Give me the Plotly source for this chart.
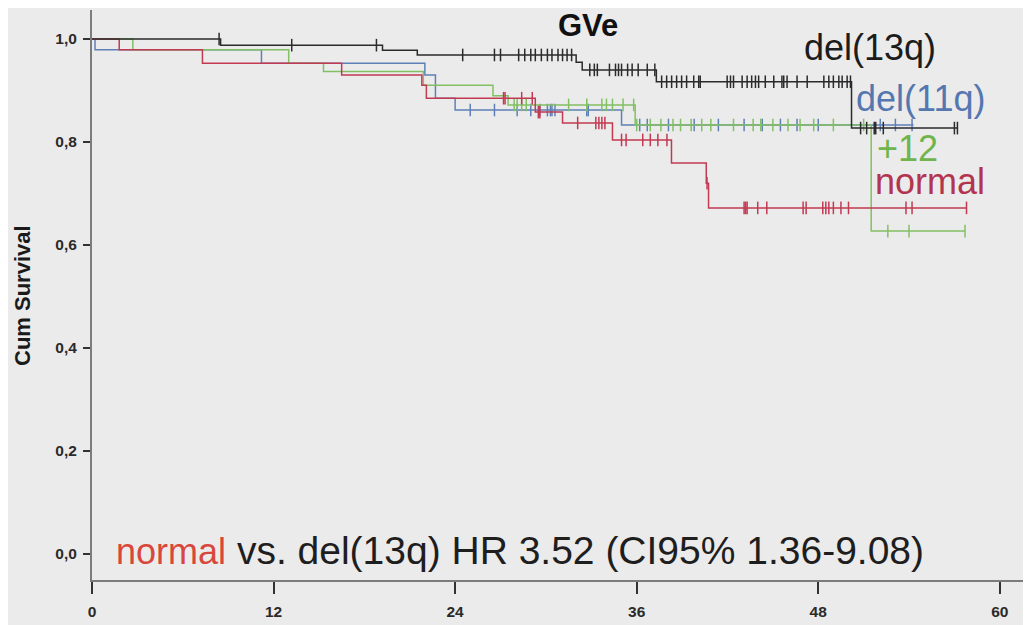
import numpy as np
import plotly.graph_objects as go

# ---------------- data ----------------
groups = ["del(13q)", "del(11q)", "+12", "normal"]

# del(13q)
del13_event_t = [8.5, 19.2, 21.5, 32.0, 32.4, 37.3, 50.2]
del13_event_s = [0.988, 0.978, 0.969, 0.955, 0.940, 0.917, 0.827]
del13_end = 57.2
del13_cens = [8.4, 13.2, 18.8, 24.5, 26.6, 27.0, 28.2, 28.6, 29.0, 29.3, 29.7, 30.1,
              30.4, 30.8, 31.1, 31.4, 31.7, 32.9, 33.2, 33.4, 34.2, 34.6, 34.8, 35.0,
              35.4, 35.7, 36.1, 36.7, 37.2, 37.65, 37.98, 38.31, 38.64, 38.97, 39.3,
              39.77, 40.1, 40.2, 41.98, 42.2, 42.4, 42.97, 43.3, 43.6, 43.85, 44.06,
              44.5, 45.06, 45.6, 45.72, 45.94, 46.6, 47.27, 48.37, 48.7, 49.0, 49.36,
              49.58, 49.91, 50.13, 50.8, 51.2, 51.7, 51.8, 52.3, 57.0, 57.2]

# del(11q)
del11_event_t = [0.2, 11.2, 22.0, 22.7, 24.0, 35.0]
del11_event_s = [0.979, 0.953, 0.930, 0.885, 0.862, 0.833]
del11_end = 54.3
del11_cens = [25.0, 26.6, 28.1, 29.0, 29.6, 30.1, 30.3, 30.4, 30.6, 32.7, 32.8,
              36.2, 36.7, 38.1, 39.8, 41.4, 43.1, 44.3, 45.5, 46.6, 48.0, 52.1,
              53.1, 54.2]

# +12
tri12_event_t = [2.7, 13.0, 15.3, 21.9, 26.5, 27.5, 35.9, 51.5]
tri12_event_s = [0.979, 0.953, 0.937, 0.910, 0.890, 0.872, 0.833, 0.627]
tri12_end = 57.7
tri12_cens = [27.9, 28.1, 28.4, 28.7, 31.5, 32.7, 33.7, 34.0, 34.4, 35.1, 35.8,
              36.0, 36.9, 37.6, 38.4, 38.9, 39.6, 40.3, 40.9, 42.4, 43.7, 44.2,
              45.0, 46.0, 46.8, 47.7, 49.0, 51.0, 52.6, 54.0, 57.7]

# normal
norm_event_t = [1.8, 7.3, 16.5, 21.8, 22.1, 29.3, 31.1, 34.4, 38.3, 40.6, 40.75]
norm_event_s = [0.979, 0.953, 0.930, 0.910, 0.885, 0.858, 0.837, 0.804, 0.759, 0.720, 0.672]
norm_end = 57.8
norm_cens = [27.2, 27.3, 28.4, 29.1, 29.5, 29.6, 32.1, 33.3, 33.5, 33.7, 33.9,
             35.0, 35.3, 36.4, 36.9, 37.4, 38.0, 40.65, 43.1, 43.2, 43.3, 44.0,
             44.6, 47.0, 47.2, 48.3, 48.5, 48.7, 49.0, 49.5, 50.0, 53.8, 54.2, 57.8]

x_ticks = [0, 12, 24, 36, 48, 60]
y_ticks = [0.0, 0.2, 0.4, 0.6, 0.8, 1.0]
y_ticktext = ["0,0", "0,2", "0,4", "0,6", "0,8", "1,0"]

title_text = "GVe"
y_title = "Cum Survival"
hr_text = "vs. del(13q) HR 3.52 (CI95% 1.36-9.08)"

# ---------------- styles ----------------
BG = "#ebebeb"
line_colors = {"del(13q)": "#2b2b2b", "del(11q)": "#5f80b6", "+12": "#82c064", "normal": "#c23a52"}
label_colors = {"del(13q)": "#1c1c1c", "del(11q)": "#5577b0", "+12": "#6fb44c", "normal": "#b3344e"}

series = {
    "del(13q)": (del13_event_t, del13_event_s, del13_end, del13_cens),
    "del(11q)": (del11_event_t, del11_event_s, del11_end, del11_cens),
    "+12": (tri12_event_t, tri12_event_s, tri12_end, tri12_cens),
    "normal": (norm_event_t, norm_event_s, norm_end, norm_cens),
}

fig = go.Figure()
order = ["del(11q)", "+12", "normal", "del(13q)"]
for g in order:
    et, es, end, cens = series[g]
    xs = [0.0] + list(et) + [end]
    ys = [1.0] + list(es) + [es[-1]]
    fig.add_trace(go.Scatter(x=xs, y=ys, mode="lines", line=dict(color=line_colors[g], width=1.5, shape="hv"),
                             showlegend=False, hoverinfo="skip"))
    et_arr = np.array(et)
    es_arr = np.array(es)
    cy = []
    for c in cens:
        idx = np.searchsorted(et_arr, c, side="right") - 1
        cy.append(1.0 if idx < 0 else float(es_arr[idx]))
    fig.add_trace(go.Scatter(x=cens, y=cy, mode="markers",
                             marker=dict(symbol="line-ns", size=9, line=dict(color=line_colors[g], width=1.5)),
                             showlegend=False, hoverinfo="skip"))

# page has an 8px body margin: figure is drawn offset by (8, 8)
OFF = 8
W, H = 1031 - OFF, 625 - OFF
L, R, T, B = 92 - OFF, 0, 10 - OFF, 45
pw, ph = W - L - R, H - T - B


def px_x(px):  # page pixel -> paper x
    return (px - OFF - L) / pw


def px_y(py):  # page pixel -> paper y
    return (H - B - (py - OFF)) / ph


tick_font = dict(family="Liberation Sans, Arial, sans-serif", size=15.5, color="#2a2a2a", weight="bold")

fig.update_layout(
    width=W, height=H,
    margin=dict(l=L, r=R, t=T, b=B),
    paper_bgcolor=BG, plot_bgcolor=BG,
    xaxis=dict(range=[0, pw / 15.13], tickvals=x_ticks, ticktext=[str(v) for v in x_ticks],
               showgrid=False, zeroline=False, showline=True, linecolor="#7c7c7c", linewidth=2,
               ticks="outside", ticklen=12, tickwidth=2, tickcolor="#333333", tickfont=tick_font,
               ticklabelstandoff=4),
    yaxis=dict(range=[-0.0505, 1.0563], tickvals=y_ticks, ticktext=y_ticktext,
               showgrid=False, zeroline=False, showline=True, linecolor="#7c7c7c", linewidth=2,
               ticks="outside", ticklen=7, tickwidth=2, tickcolor="#333333", tickfont=tick_font,
               ticklabelstandoff=3),
)

ann_font = "Liberation Sans, Arial, sans-serif"
labels_pos = {"del(13q)": (803, 48), "del(11q)": (855, 98), "+12": (876, 148), "normal": (874, 181)}
for g, (lx, ly) in labels_pos.items():
    fig.add_annotation(x=px_x(lx), y=px_y(ly), xref="paper", yref="paper", text=g, showarrow=False,
                       xanchor="left", yanchor="middle", borderpad=0,
                       font=dict(family=ann_font, size=36, color=label_colors[g]))

fig.add_annotation(x=px_x(588), y=px_y(26), xref="paper", yref="paper", text=f"<b>{title_text}</b>",
                   showarrow=False, xanchor="center", yanchor="middle", borderpad=0,
                   font=dict(family=ann_font, size=31, color="#111111"))

fig.add_annotation(x=px_x(22), y=px_y(296), xref="paper", yref="paper", text=f"<b>{y_title}</b>",
                   showarrow=False, textangle=-90, xanchor="center", yanchor="middle",
                   font=dict(family=ann_font, size=22, color="#1a1a1a"))

fig.add_annotation(x=px_x(114), y=px_y(550), xref="paper", yref="paper",
                   text=f"<span style='color:#d9473c;font-size:36px'>normal</span> {hr_text}",
                   showarrow=False, xanchor="left", yanchor="middle",
                   font=dict(family=ann_font, size=39, color="#1e1e1e"))

fig.write_html("out.html")
